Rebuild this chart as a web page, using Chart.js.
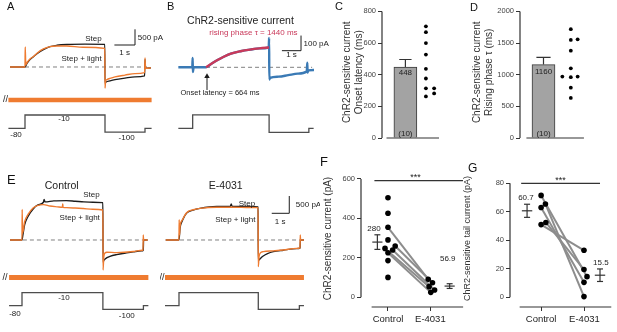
<!DOCTYPE html>
<html>
<head>
<meta charset="utf-8">
<script src="https://cdn.jsdelivr.net/npm/chart.js@4.4.1/dist/chart.umd.min.js"></script>
<style>
  body { margin: 0; background: #fff; }
  #wrap { position: relative; width: 617px; height: 332px; overflow: hidden; font-family: "Liberation Sans", Arial, sans-serif; }
  #wrap canvas { position: absolute; }
  .panel { position: absolute; line-height: 1; color: #111; }
</style>
</head>
<body>
<div id="wrap">
  <canvas id="cA" width="170" height="145" style="left:0;top:0"></canvas>
  <canvas id="cB" width="180" height="145" style="left:160px;top:0"></canvas>
  <canvas id="cC" width="130" height="160" style="left:340px;top:0"></canvas>
  <canvas id="cD" width="147" height="160" style="left:470px;top:0"></canvas>
  <canvas id="cE1" width="160" height="172" style="left:0;top:160px"></canvas>
  <canvas id="cE2" width="160" height="172" style="left:160px;top:160px"></canvas>
  <canvas id="cF" width="150" height="172" style="left:320px;top:160px"></canvas>
  <canvas id="cG" width="157" height="172" style="left:460px;top:160px"></canvas>
  <div class="panel" style="left:7px;top:1px;font-size:11px">A</div>
  <div class="panel" style="left:167px;top:1px;font-size:11px">B</div>
  <div class="panel" style="left:335px;top:1px;font-size:11px">C</div>
  <div class="panel" style="left:470px;top:2px;font-size:11px">D</div>
  <div class="panel" style="left:7px;top:173px;font-size:13px">E</div>
  <div class="panel" style="left:320px;top:155px;font-size:13px">F</div>
  <div class="panel" style="left:468px;top:162px;font-size:12px">G</div>
</div>
<script>
// ---- A: current traces (time in s, current in pA) ----
var aStepT  = [-0.75, 0, 0.1, 0.25, 0.42, 0.6, 0.92, 1.25, 1.6, 2.1, 3.0, 3.99, 4.0, 4.05, 4.25, 4.5, 5.0, 5.5, 5.98, 6.0, 6.03, 6.3];
var aStepI  = [0, 0, 120, 250, 340, 440, 580, 680, 725, 750, 760, 756, -540, -500, -460, -420, -370, -330, -300, 250, -40, -30];
var aLightT = [-0.75, 0, 0.01, 0.04, 0.1, 0.25, 0.42, 0.6, 0.92, 1.25, 1.6, 2.08, 2.9, 3.99, 4.0, 4.03, 4.1, 4.25, 4.5, 5.0, 5.5, 5.98, 6.0, 6.03, 6.3];
var aLightI = [0, 0, 667, 80, 150, 270, 350, 460, 600, 680, 700, 700, 660, 620, -700, -480, -420, -380, -330, -270, -220, -190, 300, -40, -30];
var aProtoT = [-0.83, 0, 4.0, 6.0, 6.33];
var aProtoV = [-80, -10, -100, -80, -80];

// ---- B: ChR2-sensitive current and fit ----
var bT    = [-0.75, -0.02, 0, 0.01, 0.05, 0.7, 1.0, 1.3, 1.6, 2.0, 2.5, 3.0, 3.5, 3.98, 4.0, 4.01, 4.05, 4.5, 5.0, 5.5, 5.97, 6.0, 6.01, 6.05, 6.35];
var bI    = [0, 0, 62, -31, 0, 0, 25, 48, 68, 90, 106, 117, 125, 131, 194, -81, -70, -62, -52, -42, -28, 30, -35, -20, -18];
var bFitT = [0.7, 1.0, 1.3, 1.6, 2.0, 2.5, 3.0, 3.5, 4.0];
var bFitI = [0, 25, 48, 68, 90, 106, 117, 125, 131];
var bProtoT = [-0.75, 0, 4.0, 6.08, 6.33];
var bProtoV = [-80, -10, -100, -80, -80];

// ---- C / D: onset latency and rising tau ----
var cMean = 448, cSem = 48;
var cVals = [706, 669, 600, 527, 437, 376, 314, 314, 263, 282];
var cCol  = [2, 2, 2, 2, 2, 2, 2, 2.4, 2, 2.4];
var cTicks = [0, 200, 400, 600, 800];
var dMean = 1160, dSem = 113;
var dVals = [1720, 1550, 1560, 1380, 1101, 971, 961, 971, 795, 634];
var dCol  = [2, 2, 2.25, 2, 2, 1.69, 2, 2.25, 2, 2];
var dTicks = [0, 500, 1000, 1500, 2000];

// ---- E: control and E-4031 traces ----
var eCtrlStepT  = [-0.68, 0, 0.05, 0.15, 0.35, 0.64, 0.9, 1.21, 1.25, 1.3, 1.8, 2.5, 3.0, 3.5, 4.0, 4.57, 4.58, 4.62, 4.8, 4.97, 5.35, 5.91, 6.29, 6.76, 6.85, 6.87, 7.1];
var eCtrlStepI  = [0, 0, 150, 450, 700, 920, 1030, 1110, 1190, 1120, 1150, 1157, 1140, 1120, 1110, 1098, -650, -600, -520, -480, -430, -380, -350, -320, -300, 0, 0];
var eCtrlLightT = [-0.68, 0, 0.01, 0.03, 0.15, 0.35, 0.64, 0.9, 1.21, 1.58, 2.0, 2.28, 2.3, 2.32, 2.52, 3.0, 3.46, 4.0, 4.57, 4.58, 4.62, 4.69, 4.8, 5.35, 6.29, 6.8, 6.84, 6.85, 6.87, 7.1];
var eCtrlLightI = [0, 0, 900, 200, 539, 760, 950, 1020, 1040, 1000, 975, 960, 1060, 960, 951, 940, 925, 905, 882, -882, -500, -380, -360, -370, -340, -300, -300, 150, 0, 0];
var eDrugStepT  = [-0.75, 0, 0.06, 0.2, 0.43, 0.8, 1.18, 2.13, 2.9, 2.95, 3.0, 4.0, 4.47, 4.48, 4.6, 4.76, 5.0, 5.33, 5.89, 6.65, 6.84, 6.86, 7.06];
var eDrugStepI  = [0, 0, 350, 580, 790, 880, 930, 985, 990, 1060, 990, 985, 970, -600, -540, -470, -400, -343, -300, -255, -240, 0, 0];
var eDrugLightT = [-0.75, 0, 0.01, 0.03, 0.06, 0.2, 0.43, 0.8, 1.18, 2.13, 3.07, 4.0, 4.47, 4.48, 4.52, 4.6, 4.76, 5.33, 5.89, 6.65, 6.84, 6.85, 6.87, 7.06];
var eDrugLightI = [0, 0, 600, 150, 392, 600, 804, 890, 931, 965, 965, 955, 951, -784, -500, -380, -343, -320, -294, -245, -230, 150, 0, 0];
var eCtrlProtoT = [-0.73, 0, 4.57, 6.86, 7.14];
var eDrugProtoT = [-0.79, 0, 4.48, 6.8, 7.06];
var eProtoV = [-80, -10, -100, -80, -80];

// ---- F / G: paired currents ----
var groups = ['Control', 'E-4031'];
var fCtrl  = [505, 426, 355, 291, 260, 248, 240, 226, 186, 101];
var fCtrlX = [1, 1, 1, 1, 1.17, 0.93, 1.11, 1, 1, 1];
var fDrug  = [91, 74, 54, 37, 25];
var fDrugX = [1.95, 2.05, 1.97, 2.1, 2.01];
var fPairs = [[2, 0], [4, 1], [5, 2], [6, 3], [7, 4]];
var fMean = [280, 56.9], fSem = [37, 12];
var fTicks = [0, 200, 400, 600];
var gCtrl  = [71.5, 65.5, 63, 52.5, 51];
var gCtrlX = [1, 1.1, 1, 1.11, 1];
var gDrug  = [33, 19.5, 14.5, 10.5, 0.5];
var gDrugX = [1.99, 1.99, 2.06, 1.99, 1.99];
var gPairs = [[4, 0], [3, 1], [0, 2], [2, 3], [1, 4]];
var gMean = [60.7, 15.5], gSem = [4.6, 4.4];
var gTicks = [0, 20, 40, 60, 80];

var ORANGE = '#ef7b30', BLACK = '#1c1c1c', GREY = '#4d4d4d', BLUE = '#3a7ab5', RED = '#c9395a', DASH = '#808080';
var FONT = '"Liberation Sans", Arial, sans-serif';

Chart.defaults.font.family = FONT;
Chart.defaults.color = '#333';
Chart.defaults.animation = false;
Chart.defaults.events = [];
Chart.defaults.plugins.legend.display = false;
Chart.defaults.plugins.tooltip.enabled = false;
Chart.defaults.elements.point.radius = 0;

function pts(xs, ys) { return xs.map(function (x, i) { return {x: x, y: ys[i]}; }); }

function line(data, color, width, extra) {
  return Object.assign({type: 'line', data: data, borderColor: color, borderWidth: width, pointRadius: 0, fill: false, tension: 0}, extra || {});
}
function trace(xs, ys, color, width, order) {
  return line(pts(xs, ys), color, width, {order: order, cubicInterpolationMode: 'monotone'});
}
function proto(xs, ys) {
  return line(pts(xs, ys), GREY, 1.3, {yAxisID: 'v', stepped: true, order: 5});
}
function plain(v) { return String(v); }

// text placed at data coordinates
function notes(list) {
  return {
    id: 'notes',
    afterDraw: function (chart) {
      var ctx = chart.ctx;
      ctx.save();
      list.forEach(function (n) {
        var x = chart.scales.x.getPixelForValue(n.x);
        var y = chart.scales[n.ax || 'y'].getPixelForValue(n.y);
        ctx.font = (n.s || 8) + 'px ' + FONT;
        ctx.fillStyle = n.c || '#222';
        ctx.textAlign = n.a || 'center';
        ctx.textBaseline = 'middle';
        ctx.fillText(n.t, x, y);
      });
      ctx.restore();
    }
  };
}

// GraphPad-like detached axis lines
function axes(xr, yr) {
  return {
    id: 'axes',
    afterDraw: function (chart) {
      var ctx = chart.ctx, a = chart.chartArea, s = chart.scales;
      ctx.save();
      ctx.strokeStyle = '#333';
      ctx.lineWidth = 1.2;
      ctx.beginPath();
      ctx.moveTo(a.left, s.y.getPixelForValue(yr[0]));
      ctx.lineTo(a.left, s.y.getPixelForValue(yr[1]));
      ctx.moveTo(s.x.getPixelForValue(xr[0]), a.bottom);
      ctx.lineTo(s.x.getPixelForValue(xr[1]), a.bottom);
      ctx.stroke();
      ctx.restore();
    }
  };
}

function traceChart(id, xr, yr, vr, datasets, labels) {
  return new Chart(document.getElementById(id), {
    type: 'line',
    data: {datasets: datasets},
    options: {
      responsive: false,
      layout: {padding: 0},
      scales: {
        x: {type: 'linear', min: xr[0], max: xr[1], display: false},
        y: {type: 'linear', min: yr[0], max: yr[1], display: false},
        v: {type: 'linear', min: vr[0], max: vr[1], display: false}
      }
    },
    plugins: [notes(labels)]
  });
}

// A
traceChart('cA', [-1.25, 7.25], [-2600, 2233], [-167.9, 595], [
  trace(aLightT, aLightI, ORANGE, 1.4, 0),
  trace(aStepT, aStepI, BLACK, 1.3, 1),
  line([{x: 0, y: 0}, {x: 6.1, y: 0}], DASH, 1, {borderDash: [4, 3], order: 2}),
  line([{x: -0.83, y: -1100}, {x: 6.33, y: -1100}], ORANGE, 4.5, {order: 3}),
  proto(aProtoT, aProtoV),
  line([{x: 4.47, y: 733}, {x: 5.5, y: 733}, {x: 5.5, y: 1256}], BLACK, 1, {order: 4})
], [
  {x: 3.42, y: 933, t: 'Step'},
  {x: 2.83, y: 289, t: 'Step + light'},
  {x: 5.64, y: 980, t: '500 pA', a: 'left'},
  {x: 4.98, y: 480, t: '1 s'},
  {x: -0.98, y: -1100, t: '//', s: 9},
  {x: -0.45, y: -115, ax: 'v', t: '-80'},
  {x: 1.95, y: -31, ax: 'v', t: '-10'},
  {x: 5.08, y: -132, ax: 'v', t: '-100'}
]);

// B
traceChart('cB', [-1.5, 7.5], [-487.5, 418.75], [-144.6, 559], [
  trace(bFitT, bFitI, RED, 2.4, 0),
  trace(bT, bI, BLUE, 2.4, 1),
  line([{x: 0.7, y: 0}, {x: 6.25, y: 0}], DASH, 1, {borderDash: [4, 3], order: 2}),
  line([{x: 0.75, y: -150}, {x: 0.75, y: -60}], BLACK, 1, {order: 3, pointRadius: [0, 3.2], pointStyle: 'triangle', pointBackgroundColor: BLACK, pointBorderWidth: 0}),
  proto(bProtoT, bProtoV),
  line([{x: 4.67, y: 110}, {x: 5.67, y: 110}, {x: 5.67, y: 210}], BLACK, 1, {order: 4})
], [
  {x: 2.5, y: 304, t: 'ChR2-sensitive current', s: 10.5},
  {x: 3.18, y: 231, t: 'rising phase \u03c4 = 1440 ms', s: 8, c: RED},
  {x: 1.43, y: -169, t: 'Onset latency = 664 ms', s: 7.5},
  {x: 5.8, y: 158, t: '100 pA', a: 'left'},
  {x: 5.17, y: 84, t: '1 s'}
]);

// C / D
function barPlot(id, o) {
  var top = o.mean + o.sem;
  return new Chart(document.getElementById(id), {
    type: 'scatter',
    data: {datasets: [
      {type: 'scatter', data: pts(o.xs, o.vals), pointRadius: 1.9, pointBackgroundColor: '#000', pointBorderWidth: 0, order: 0},
      line([{x: 1, y: o.mean}, {x: 1, y: top}], '#333', 1.2, {order: 1}),
      line([{x: 1 - o.cap, y: top}, {x: 1 + o.cap, y: top}], '#333', 1.2, {order: 1}),
      {type: 'bar', data: [{x: 1, y: o.mean}], backgroundColor: '#a3a3a3', borderColor: '#3a3a3a', borderWidth: 1, barThickness: 23, order: 2}
    ]},
    options: {
      responsive: false,
      layout: {padding: {top: 5, bottom: 22, left: 0, right: 0}},
      scales: {
        x: {type: 'linear', min: o.xr[0], max: o.xr[1], display: false, offset: false},
        y: {
          type: 'linear', min: 0, max: o.ymax,
          afterFit: function (s) { s.width = o.width; },
          afterBuildTicks: function (s) { s.ticks = o.ticks.map(function (v) { return {value: v}; }); },
          grid: {drawOnChartArea: false, tickLength: 4, color: '#333'},
          border: {display: false},
          ticks: {font: {size: 7.5}, color: '#444', padding: 2, callback: plain},
          title: {display: true, text: o.title, font: {size: 10}, color: '#333', padding: {top: 1, bottom: 0}}
        }
      }
    },
    plugins: [axes(o.axisX, [0, o.ticks[o.ticks.length - 1]]), notes(o.notes)]
  });
}

barPlot('cC', {
  mean: cMean, sem: cSem, vals: cVals, xs: cCol, ticks: cTicks, ymax: 831,
  xr: [-0.14, 3.953], axisX: [0.08, 2.64], width: 42, cap: 0.3,
  title: ['ChR2-sensitive current', 'Onset latency (ms)'],
  notes: [{x: 1, y: 415, t: String(cMean)}, {x: 1, y: 27, t: '(10)'}]
});
barPlot('cD', {
  mean: dMean, sem: dSem, vals: dVals, xs: dCol, ticks: dTicks, ymax: 2078,
  xr: [0.14, 3.544], axisX: [0.375, 2.48], width: 50, cap: 0.26,
  title: ['ChR2-sensitive current', 'Rising phase \u03c4 (ms)'],
  notes: [{x: 1, y: 1049, t: String(dMean)}, {x: 1, y: 67, t: '(10)'}]
});

// E
traceChart('cE1', [-1.243, 7.797], [-2706, 2353], [-221.6, 704.6], [
  trace(eCtrlLightT, eCtrlLightI, ORANGE, 1.4, 0),
  trace(eCtrlStepT, eCtrlStepI, BLACK, 1.4, 1),
  line([{x: 0.05, y: 0}, {x: 7.14, y: 0}], DASH, 1, {borderDash: [4, 3], order: 2}),
  line([{x: -0.73, y: -1103}, {x: 7.14, y: -1103}], ORANGE, 5, {order: 3}),
  proto(eCtrlProtoT, eProtoV)
], [
  {x: 2.24, y: 1588, t: 'Control', s: 10.5},
  {x: 3.92, y: 1324, t: 'Step'},
  {x: 3.26, y: 667, t: 'Step + light'},
  {x: -0.96, y: -1103, t: '//', s: 9},
  {x: -0.4, y: -124.7, ax: 'v', t: '-80'},
  {x: 2.37, y: -34.8, ax: 'v', t: '-10'},
  {x: 5.92, y: -135.5, ax: 'v', t: '-100'}
]);
traceChart('cE2', [-1.073, 7.966], [-2706, 2353], [-221.6, 704.6], [
  trace(eDrugLightT, eDrugLightI, ORANGE, 1.4, 0),
  trace(eDrugStepT, eDrugStepI, BLACK, 1.4, 1),
  line([{x: 0.06, y: 0}, {x: 6.93, y: 0}], DASH, 1, {borderDash: [4, 3], order: 2}),
  line([{x: -0.79, y: -1103}, {x: 7.06, y: -1103}], ORANGE, 5, {order: 3}),
  proto(eDrugProtoT, eProtoV),
  line([{x: 5.24, y: 785}, {x: 6.23, y: 785}, {x: 6.23, y: 1294}], BLACK, 1, {order: 4})
], [
  {x: 2.64, y: 1588, t: 'E-4031', s: 10.5},
  {x: 3.84, y: 1059, t: 'Step'},
  {x: 3.18, y: 608, t: 'Step + light'},
  {x: 6.6, y: 1040, t: '500 pA', a: 'left'},
  {x: 5.71, y: 538, t: '1 s'},
  {x: -0.96, y: -1103, t: '//', s: 9}
]);

// F / G
function dotPlot(id, o) {
  var ds = [];
  ds.push({type: 'scatter', data: pts(o.cx, o.cv).concat(pts(o.dx, o.dv)), pointRadius: 2.8, pointBackgroundColor: '#000', pointBorderWidth: 0, order: 0});
  o.pairs.forEach(function (p) {
    ds.push(line([{x: o.cx[p[0]], y: o.cv[p[0]]}, {x: o.dx[p[1]], y: o.dv[p[1]]}], '#8d8d8d', 2, {order: 3}));
  });
  o.mean.forEach(function (m, i) {
    var x = o.mx[i], s = o.sem[i];
    ds.push(line([{x: x - 0.12, y: m}, {x: x + 0.12, y: m}], '#333', 1.2, {order: 1}));
    ds.push(line([{x: x, y: m - s}, {x: x, y: m + s}], '#333', 1.2, {order: 1}));
    ds.push(line([{x: x - 0.07, y: m - s}, {x: x + 0.07, y: m - s}], '#333', 1.2, {order: 1}));
    ds.push(line([{x: x - 0.07, y: m + s}, {x: x + 0.07, y: m + s}], '#333', 1.2, {order: 1}));
  });
  ds.push(line([{x: o.sig[0], y: o.sigY}, {x: o.sig[1], y: o.sigY}], '#333', 1.2, {order: 1}));
  return new Chart(document.getElementById(id), {
    type: 'scatter',
    data: {datasets: ds},
    options: {
      responsive: false,
      layout: {padding: {top: 10, bottom: 0, left: 0, right: 0}},
      scales: {
        x: {
          type: 'linear', min: o.xr[0], max: o.xr[1],
          afterFit: function (s) { s.height = 25; },
          afterBuildTicks: function (s) { s.ticks = [{value: 1}, {value: 2}]; },
          grid: {drawOnChartArea: false, tickLength: 4, color: '#333'},
          border: {display: false},
          ticks: {font: {size: 9.5}, color: '#222', padding: 3, autoSkip: false, maxRotation: 0,
                  callback: function (v) { return groups[v - 1]; }}
        },
        y: {
          type: 'linear', min: o.yr[0], max: o.yr[1],
          afterFit: function (s) { s.width = o.width; },
          afterBuildTicks: function (s) { s.ticks = o.ticks.map(function (v) { return {value: v}; }); },
          grid: {drawOnChartArea: false, tickLength: 4, color: '#333'},
          border: {display: false},
          ticks: {font: {size: 7.5}, color: '#444', padding: 2, callback: plain},
          title: {display: true, text: o.title, font: {size: o.tsize}, color: '#333', padding: {top: o.tpad, bottom: 0}}
        }
      }
    },
    plugins: [axes(o.axisX, [0, o.ticks[o.ticks.length - 1]]), notes(o.notes)]
  });
}

dotPlot('cF', {
  cv: fCtrl, cx: fCtrlX, dv: fDrug, dx: fDrugX, pairs: fPairs,
  mean: fMean, sem: fSem, mx: [0.75, 2.455], ticks: fTicks,
  xr: [0.3636, 2.841], yr: [-49.2, 645.6], axisX: [0.614, 2.773],
  sig: [0.68, 2.77], sigY: 592, width: 41, tsize: 10, tpad: 2,
  title: 'ChR2-sensitive current (pA)',
  notes: [
    {x: 1.65, y: 608, t: '***', s: 9},
    {x: 0.67, y: 345, t: String(fMean[0])},
    {x: 2.41, y: 193, t: String(fMean[1])}
  ]
});
dotPlot('cG', {
  cv: gCtrl, cx: gCtrlX, dv: gDrug, dx: gDrugX, pairs: gPairs,
  mean: gMean, sem: gSem, mx: [0.676, 2.36], ticks: gTicks,
  xr: [0.282, 2.66], yr: [-6.81, 89.33], axisX: [0.505, 2.62],
  sig: [0.54, 2.36], sigY: 80, width: 50, tsize: 9, tpad: 2,
  title: 'ChR2-sensitive tail current (pA)',
  notes: [
    {x: 1.45, y: 82.2, t: '***', s: 9},
    {x: 0.65, y: 69.5, t: String(gMean[0])},
    {x: 2.38, y: 24.3, t: String(gMean[1])}
  ]
});
</script>
</body>
</html>
